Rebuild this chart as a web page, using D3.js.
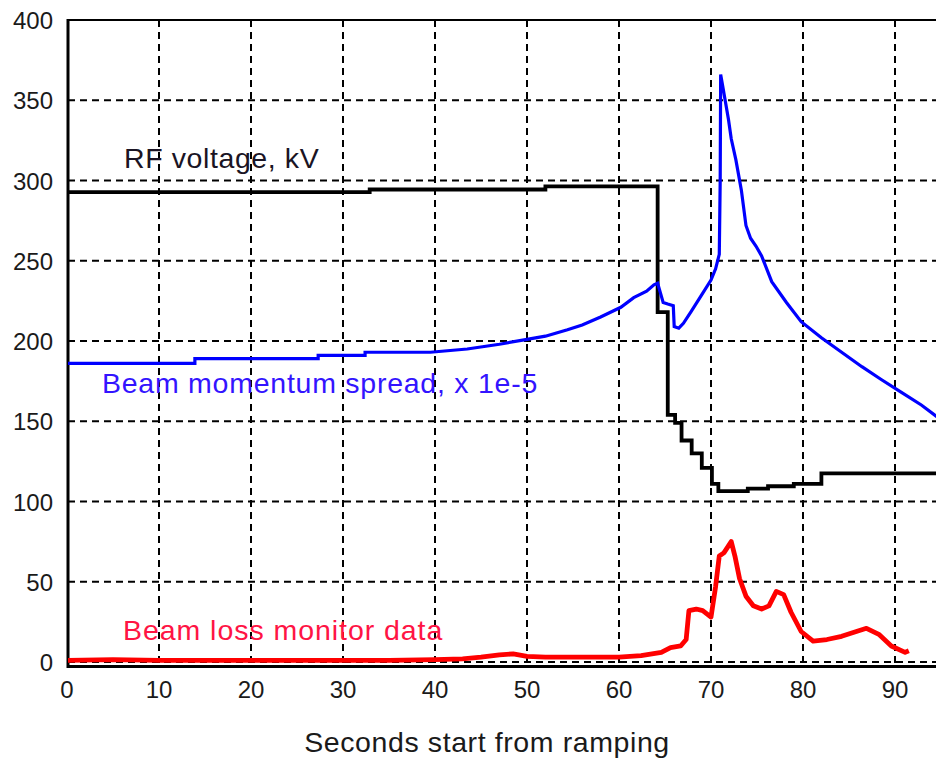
<!DOCTYPE html>
<html>
<head>
<meta charset="utf-8">
<script src="https://cdn.jsdelivr.net/npm/d3@7"></script>
<style>
  body { margin:0; background:#fff; }
  text { font-family:"Liberation Sans", Arial, sans-serif; }
</style>
</head>
<body>
<svg id="chart" width="936" height="760"></svg>
<script>
// ---- data ----
var xTicks=[0,10,20,30,40,50,60,70,80,90,100];
var yTicks=[0,50,100,150,200,250,300,350,400];

// RF voltage, kV (step levels, each holds until next time)
var rfTime =[0,32.9,52,64.2,65.3,66.1,66.8,67.9,69.0,70.1,70.8,74,76.2,79,82,96];
var rfValue=[292.8,294.4,296.4,218,154,149,138,130,121,111,106.5,108,109.5,111,117.5,117.5];

// Beam momentum spread, x 1e-5
var dpTime =[0,13.9,13.9,27.3,27.3,32.4,32.4,39.5,43.5,47,50,52,54.4,56,58,60.2,61.6,63,63.8,64.2,64.4,64.8,65.3,65.9,66,66.5,67,67.8,68.9,70,70.5,70.9,71.0,71.05,71.3,71.6,71.9,72.2,72.7,73.3,73.8,74.3,74.9,75.5,76.6,78.2,79.8,82,84.2,86.4,88.5,90.7,92.9,94.5,96];
var dpValue=[186,186,189,189,191,191,193,193,195,198,201,203,207,210,215,221,227,231,235,236,232,224,223,222,209,208,211,218,228,238,245,254,300,366,358,348,338,326,313,294,272,264,259,253,237,224,212,202,193,184,176,168,160,153,148];

// Beam loss monitor data
var blmTime =[0,5,10,15,20,25,30,35,40,43,45,47,48.5,50,52,55,58,60,62.4,64.6,65.6,66.7,67.3,67.6,68.4,69.1,70,70.5,70.9,71.4,72.2,72.6,73.1,73.8,74.6,75.5,76.3,77.1,77.9,78.7,79.8,81.1,82.6,84.2,85.8,86.9,88.3,89.6,91.1,91.5];
var blmValue=[1,1.5,1,1,1,1,1,1,1.5,2,3,4.5,5,3.5,3,3,3,3,4,6,9,10,14,32,33,32,28,47,66,68,75,66,52,41,35,33,35,44,42,31,19,13,14,16,19,21,17,10,6,7];

var svg=d3.select("#chart");
svg.append("rect").attr("width",936).attr("height",760).attr("fill","#fff");

var x=d3.scaleLinear().domain([0,100]).range([67,987]);
var y=d3.scaleLinear().domain([0,400]).range([662,20]);

svg.append("defs").append("clipPath").attr("id","plotClip")
    .append("rect").attr("x",68).attr("y",18).attr("width",868).attr("height",650);

// grid
var grid=svg.append("g").attr("stroke","#000").attr("stroke-width",2).attr("stroke-dasharray","7,5");
grid.selectAll("line.v")
    .data(xTicks.filter(function(d){return d>0;}))
    .enter().append("line")
    .attr("x1",function(d){return x(d);}).attr("x2",function(d){return x(d);})
    .attr("y1",y(400)).attr("y2",666);
grid.selectAll("line.h")
    .data(yTicks.filter(function(d){return d<400;}))
    .enter().append("line")
    .attr("x1",68).attr("x2",936)
    .attr("y1",function(d){return y(d);}).attr("y2",function(d){return y(d);});

// frame
svg.append("line").attr("x1",68).attr("x2",936).attr("y1",y(400)).attr("y2",y(400))
    .attr("stroke","#000").attr("stroke-width",2);
svg.append("line").attr("x1",68).attr("x2",68).attr("y1",y(400)-1).attr("y2",668)
    .attr("stroke","#000").attr("stroke-width",3);
svg.append("line").attr("x1",67).attr("x2",936).attr("y1",666.5).attr("y2",666.5)
    .attr("stroke","#000").attr("stroke-width",3);

// tick labels
svg.append("g").selectAll("text")
    .data(yTicks).enter().append("text")
    .attr("x",53).attr("y",function(d){return y(d)+9;})
    .attr("text-anchor","end").attr("font-size",24).attr("fill","#1a1a1a")
    .text(function(d){return d;});
svg.append("g").selectAll("text")
    .data(xTicks.filter(function(d){return x(d)<930;})).enter().append("text")
    .attr("x",function(d){return x(d);}).attr("y",698)
    .attr("text-anchor","middle").attr("font-size",24).attr("fill","#1a1a1a")
    .text(function(d){return d;});

svg.append("text").attr("x",487).attr("y",752)
    .attr("text-anchor","middle").attr("font-size",28.5).attr("letter-spacing",0.6).attr("fill","#1a1a1a")
    .text("Seconds start from ramping");

// series
var plot=svg.append("g").attr("clip-path","url(#plotClip)");

var rfLine=d3.line().curve(d3.curveStepAfter)
    .x(function(d,i){return x(rfTime[i]);}).y(function(d){return y(d);});
plot.append("path").attr("d",rfLine(rfValue))
    .attr("fill","none").attr("stroke","#000").attr("stroke-width",3.8);

var dpLine=d3.line()
    .x(function(d,i){return x(dpTime[i]);}).y(function(d){return y(d);});
plot.append("path").attr("d",dpLine(dpValue))
    .attr("fill","none").attr("stroke","#0000ff").attr("stroke-width",3.2);

var blmLine=d3.line()
    .x(function(d,i){return x(blmTime[i]);}).y(function(d){return y(d);});
plot.append("path").attr("d",blmLine(blmValue))
    .attr("fill","none").attr("stroke","#ff0000").attr("stroke-width",4.8)
    .attr("stroke-linejoin","round");

// labels
svg.append("text").attr("x",124).attr("y",168).attr("font-size",28.5).attr("letter-spacing",0.6).attr("fill","#1a1424")
    .text("RF voltage, kV");
svg.append("text").attr("x",102).attr("y",393).attr("font-size",28.5).attr("letter-spacing",0.75).attr("fill","#3314ff")
    .text("Beam momentum spread, x 1e-5");
svg.append("text").attr("x",123).attr("y",640).attr("font-size",28.5).attr("letter-spacing",0.95).attr("fill","#ff1444")
    .text("Beam loss monitor data");
</script>
</body>
</html>
